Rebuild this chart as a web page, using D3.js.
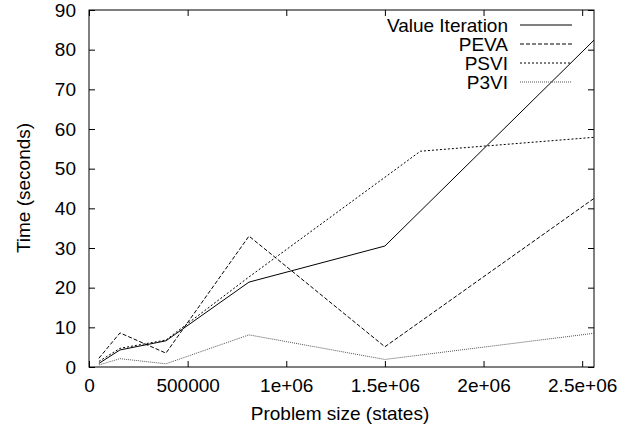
<!DOCTYPE html>
<html><head><meta charset="utf-8">
<script src="https://cdn.jsdelivr.net/npm/d3@7"></script>
<style>
body{margin:0;background:#fff;}
text{font-family:"Liberation Sans",Arial,Helvetica,sans-serif;font-size:19px;fill:#000;}
</style></head>
<body><svg id="c" width="629" height="429"></svg>
<script>
// Data
const sizes = [50000, 157000, 390000, 811000, 1500000, 2560000];
const psviSizes = [50000, 157000, 390000, 811000, 1680000, 2560000];
const valueIteration = [0.9, 4.3, 6.6, 21.4, 30.5, 82.4];
const peva = [2.2, 8.6, 3.5, 33.0, 5.1, 42.5];
const psvi = [1.4, 4.7, 6.8, 22.7, 54.4, 57.9];
const p3vi = [0.5, 2.1, 0.8, 8.1, 1.9, 8.5];
const seriesNames = ["Value Iteration", "PEVA", "PSVI", "P3VI"];
const xTicks = [0, 500000, 1000000, 1500000, 2000000, 2500000];
const xTickLabels = ["0", "500000", "1e+06", "1.5e+06", "2e+06", "2.5e+06"];
const yTicks = [0, 10, 20, 30, 40, 50, 60, 70, 80, 90];

const series = [
  {name: seriesNames[0], xs: sizes, ys: valueIteration, dash: null, color: "#000"},
  {name: seriesNames[1], xs: sizes, ys: peva, dash: "4,2", color: "#000"},
  {name: seriesNames[2], xs: psviSizes, ys: psvi, dash: "2,2", color: "#000"},
  {name: seriesNames[3], xs: sizes, ys: p3vi, dash: "1,1", color: "#555"}
];

const L = 89, R = 594, T = 10, B = 367;
const svg = d3.select("#c");
const x = d3.scaleLinear().domain([0, 2560000]).range([L, R]);
const y = d3.scaleLinear().domain([0, 90]).range([B, T]);

// Frame
svg.append("rect").attr("x", L).attr("y", T).attr("width", R - L).attr("height", B - T)
  .attr("fill", "none").attr("stroke", "#000").attr("stroke-width", 1);

const tl = 6;
// Axes (ticks inward, mirrored)
const xAxisB = d3.axisBottom(x).tickValues(xTicks).tickFormat((d, i) => xTickLabels[i]).tickSizeInner(-tl).tickSizeOuter(0).tickPadding(12);
svg.append("g").attr("transform", `translate(0,${B})`).call(xAxisB)
  .call(g => g.select(".domain").remove());
const xAxisT = d3.axisTop(x).tickValues(xTicks).tickFormat("").tickSizeInner(-tl).tickSizeOuter(0);
svg.append("g").attr("transform", `translate(0,${T})`).call(xAxisT)
  .call(g => g.select(".domain").remove());
const yAxisL = d3.axisLeft(y).tickValues(yTicks).tickSizeInner(-tl).tickSizeOuter(0).tickPadding(13);
svg.append("g").attr("transform", `translate(${L},0)`).call(yAxisL)
  .call(g => g.select(".domain").remove());
const yAxisR = d3.axisRight(y).tickValues(yTicks).tickFormat("").tickSizeInner(-tl).tickSizeOuter(0);
svg.append("g").attr("transform", `translate(${R},0)`).call(yAxisR)
  .call(g => g.select(".domain").remove());
svg.selectAll(".tick text").attr("font-size", 19).attr("font-family", "Liberation Sans, Arial, sans-serif").attr("fill", "#000");
svg.selectAll(".tick line").attr("stroke", "#000");

// Axis titles
svg.append("text").attr("x", 340).attr("y", 420).attr("text-anchor", "middle").text("Problem size (states)");
svg.append("text").attr("transform", `translate(30,188) rotate(-90)`).attr("text-anchor", "middle").text("Time (seconds)");

// Lines
const line = d3.line().x(d => x(d[0])).y(d => y(d[1]));
svg.append("clipPath").attr("id", "clp").append("rect").attr("x", L).attr("y", T).attr("width", R - L).attr("height", B - T);
series.forEach(s => {
  const pts = s.xs.map((v, i) => [v, s.ys[i]]);
  svg.append("path").datum(pts).attr("d", line).attr("fill", "none")
    .attr("stroke", s.color).attr("stroke-width", 1)
    .attr("stroke-dasharray", s.dash).attr("clip-path", "url(#clp)");
});

// Legend
series.forEach((s, i) => {
  const ly = 25 + i * 19;
  svg.append("text").attr("x", 508).attr("y", ly).attr("dy", "0.35em").attr("text-anchor", "end").text(s.name);
  svg.append("line").attr("x1", 520).attr("x2", 572).attr("y1", ly).attr("y2", ly)
    .attr("stroke", s.color).attr("stroke-width", 1).attr("stroke-dasharray", s.dash);
});
</script></body></html>
